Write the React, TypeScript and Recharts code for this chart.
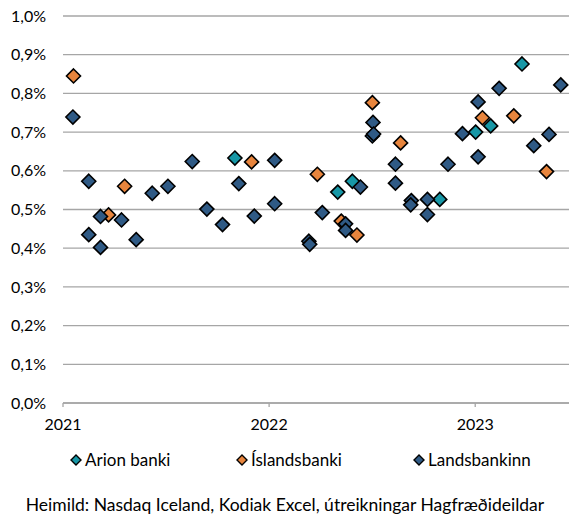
import React from 'react';
import {
  ScatterChart,
  Scatter,
  XAxis,
  YAxis,
  CartesianGrid,
  Legend
} from 'recharts';

// dates as decimal years, rates in %
const arionDates = [2021.834, 2022.333, 2022.404, 2022.828, 2023.002, 2023.075, 2023.227];
const arionRates = [0.633, 0.545, 0.573, 0.526, 0.70, 0.716, 0.876];

const islandsDates = [2021.051, 2021.221, 2021.299, 2021.915, 2022.234, 2022.35, 2022.426, 2022.501, 2022.638, 2023.035, 2023.187, 2023.346];
const islandsRates = [0.845, 0.486, 0.56, 0.623, 0.591, 0.47, 0.434, 0.776, 0.672, 0.737, 0.742, 0.598];

const landsDates = [
  2021.048, 2021.125, 2021.125, 2021.182, 2021.182, 2021.284, 2021.355, 2021.433, 2021.509, 2021.627,
  2021.698, 2021.774, 2021.853, 2021.928, 2022.027, 2022.027, 2022.193, 2022.197, 2022.258, 2022.371,
  2022.371, 2022.443, 2022.504, 2022.501, 2022.507, 2022.613, 2022.613, 2022.69, 2022.687, 2022.768,
  2022.768, 2022.868, 2022.938, 2023.014, 2023.014, 2023.116, 2023.284, 2023.358, 2023.415
];
const landsRates = [
  0.739, 0.573, 0.435, 0.482, 0.402, 0.473, 0.422, 0.542, 0.56, 0.624,
  0.501, 0.461, 0.567, 0.483, 0.627, 0.515, 0.418, 0.41, 0.492, 0.463,
  0.446, 0.558, 0.725, 0.69, 0.695, 0.617, 0.568, 0.523, 0.512, 0.526,
  0.487, 0.617, 0.696, 0.778, 0.636, 0.813, 0.665, 0.694, 0.822
];

const yTicks = [0, 0.1, 0.2, 0.3, 0.4, 0.5, 0.6, 0.7, 0.8, 0.9, 1.0];
const xTicks = [2021, 2022, 2023];

const toPoints = (xs: number[], ys: number[]) => xs.map((x, i) => ({ x, y: ys[i] }));

const series = [
  { name: 'Arion banki', color: '#1797a6', data: toPoints(arionDates, arionRates) },
  { name: 'Íslandsbanki', color: '#e8853d', data: toPoints(islandsDates, islandsRates) },
  { name: 'Landsbankinn', color: '#2f5a85', data: toPoints(landsDates, landsRates) }
];

const FONT = 'Lato, "Open Sans", sans-serif';

const Diamond = (props: any) => {
  const { cx, cy, fill } = props;
  const r = 7;
  return (
    <path
      d={`M${cx},${cy - r}L${cx + r},${cy}L${cx},${cy + r}L${cx - r},${cy}Z`}
      fill={fill}
      stroke="#000"
      strokeWidth={1.6}
      strokeLinejoin="miter"
    />
  );
};

const legendX = [70, 236, 413];

const CustomLegend = () => (
  <div style={{ position: 'relative', height: 20, fontFamily: FONT, fontSize: 17, color: '#000' }}>
    {series.map((s, i) => (
      <div key={s.name} style={{ position: 'absolute', left: legendX[i], top: 0, display: 'flex', alignItems: 'center' }}>
        <svg width={12} height={12} style={{ marginRight: 3 }}>
          <path d="M6,1L11,6L6,11L1,6Z" fill={s.color} stroke="#000" strokeWidth={1.4} />
        </svg>
        <span>{s.name}</span>
      </div>
    ))}
  </div>
);

const fmtPct = (v: number) => v.toFixed(1).replace('.', ',') + '%';

const App: React.FC = () => {
  return (
    <div style={{ position: 'absolute', left: 0, top: 0, width: 570, height: 517, background: '#fff', fontFamily: FONT }}>
      <ScatterChart width={570} height={491} margin={{ top: 16, right: 1, left: 0, bottom: 0 }}>
        <CartesianGrid stroke="#a6a6a6" strokeWidth={1.3} vertical={false} />
        <XAxis
          type="number"
          dataKey="x"
          domain={[2021, 2023.455]}
          ticks={xTicks}
          tickFormatter={(v: number) => String(Math.round(v))}
          axisLine={{ stroke: '#a6a6a6', strokeWidth: 1.3 }}
          tickLine={{ stroke: '#a6a6a6', strokeWidth: 1.3 }}
          tickSize={4}
          tickMargin={12}
          tick={{ fill: '#000', fontSize: 16, fontFamily: FONT }}
          height={68}
          allowDataOverflow
        />
        <YAxis
          type="number"
          dataKey="y"
          domain={[0, 1]}
          ticks={yTicks}
          tickFormatter={fmtPct}
          axisLine={false}
          tickLine={false}
          tickSize={15}
          tickMargin={2}
          tick={{ fill: '#000', fontSize: 16, fontFamily: FONT }}
          width={63}
        />
        <Legend verticalAlign="bottom" align="left" content={<CustomLegend />} wrapperStyle={{ left: 0, bottom: 22 }} />
        {series.map((s) => (
          <Scatter
            key={s.name}
            name={s.name}
            data={s.data}
            fill={s.color}
            shape={<Diamond />}
            isAnimationActive={false}
          />
        ))}
      </ScatterChart>
      <div style={{ position: 'absolute', top: 494, left: 0, width: 570, textAlign: 'center', fontSize: 17.5, color: '#000' }}>
        Heimild: Nasdaq Iceland, Kodiak Excel, útreikningar Hagfræðideildar
      </div>
    </div>
  );
};

export default App;
